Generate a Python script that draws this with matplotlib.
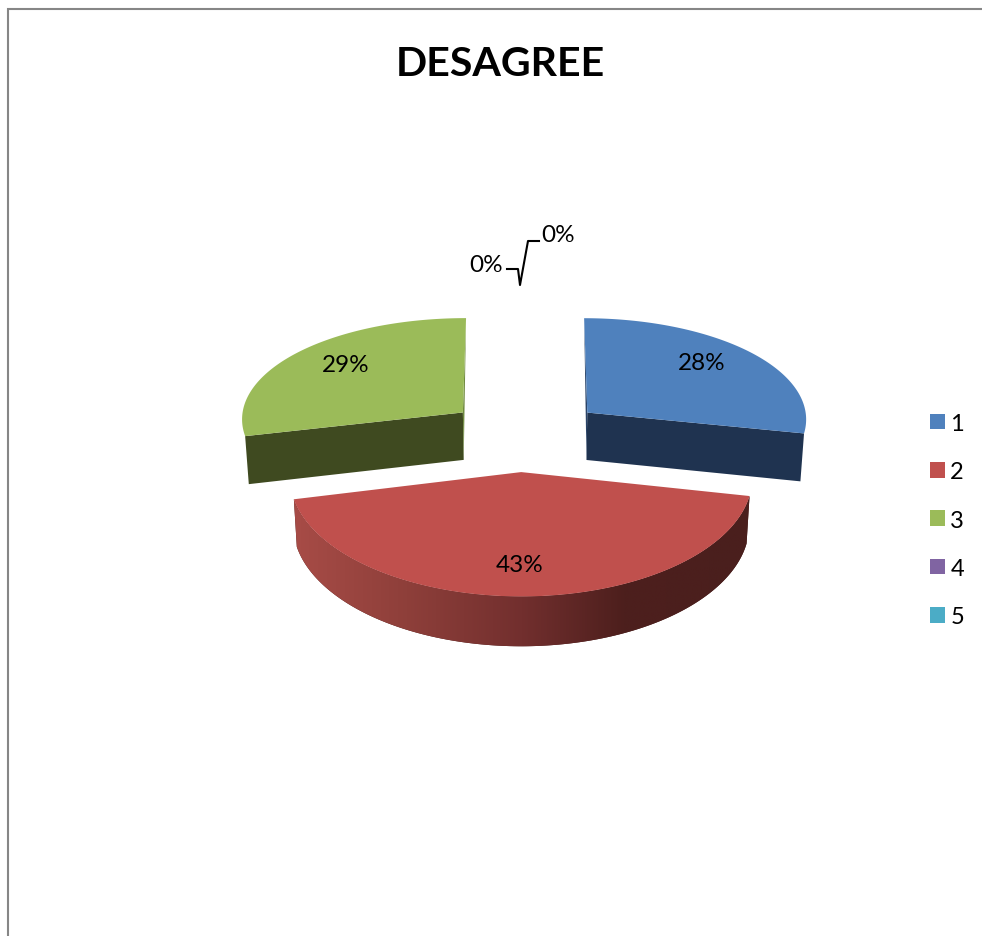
import numpy as np
import matplotlib
matplotlib.use("Agg")
import matplotlib.pyplot as plt
from matplotlib.colors import LinearSegmentedColormap
from matplotlib.patches import Patch, Polygon

plt.rcParams['font.family'] = ['Lato', 'DejaVu Sans']

title = "DESAGREE"
categories = ["1", "2", "3", "4", "5"]
shares = [28, 43, 29, 0, 0]
colors = ["#4F81BD", "#C0504D", "#9BBB59", "#8064A2", "#4BACC6"]
cut_colors = ["#1F3350", "#4A1F1D", "#3F4A20", "#8064A2", "#4BACC6"]
sliver_colors = ["#2A4468", "#4A1F1D", "#6F8A3F", "#8064A2", "#4BACC6"]

# fake 3d pie: pixels of the picture, y going down
X0, Y0 = 524, 436
EXPLODE = 82
TILT, PERSP, PERSP_Y = 0.465, 0.00024, 0.0003
START = 1
radius_x = [221, 226, 223, 0, 0]
radius_y = [223, 236, 223, 0, 0]
depth = [48, 46, 48, 0, 0]
nudge_x = [0, -4, 2, 0, 0]
nudge_y = [1, -2, 1, 0, 0]
trim_start = [-1, 0, 0, 0, 0]
trim_end = [0, 0, -1, 0, 0]

fig = plt.figure(figsize=(9.82, 9.37), dpi=100)
ax = fig.add_axes([0, 0, 1, 1])
ax.set_xlim(0, 982)
ax.set_ylim(937, 0)
ax.axis("off")


def project(i, wx, wy, low=False):
    s = 1 / (1 + PERSP * wy)
    sy = 1 / (1 + PERSP_Y * wy)
    if low:
        return X0 + wx * s * 0.987, Y0 - TILT * wy * sy + depth[i] * s
    return X0 + wx * s, Y0 - TILT * wy * sy


def slice_points(i, start, end, low=False):
    mid = np.radians((start + end) / 2)
    ox, oy = EXPLODE * np.sin(mid), EXPLODE * np.cos(mid)
    t = np.radians(np.linspace(start + trim_start[i], end + trim_end[i], 160))
    arc = np.column_stack(project(i, ox + radius_x[i] * np.sin(t), oy + radius_y[i] * np.cos(t), low))
    apex = np.array(project(i, ox, oy, low))
    shift = np.array([nudge_x[i], nudge_y[i]])
    return apex + shift, arc + shift


red_ramp = LinearSegmentedColormap.from_list(
    "red_side", [(0, "#A84C47"), (0.25, "#8E3F3A"), (0.5, "#722F2E"), (0.72, "#4D1F1D"), (1, "#4A1F1D")])

angle = START
for i, share in enumerate(shares):
    if share == 0:
        continue
    sweep = share * 3.6
    apex, arc = slice_points(i, angle, angle + sweep)
    apex_low, arc_low = slice_points(i, angle, angle + sweep, low=True)

    if categories[i] == "2":
        # outer wall with the shading
        wall = Polygon(np.vstack([arc, arc_low[::-1]]), closed=True, fc=cut_colors[i], ec="none", zorder=2 + i)
        ax.add_patch(wall)
        img = ax.imshow(np.linspace(0, 1, 256)[None, :], cmap=red_ramp, aspect="auto",
                        extent=(arc[:, 0].min() - 3, arc[:, 0].max() + 3, 660, 480), zorder=2.5 + i)
        img.set_clip_path(wall)

    # the two cut faces
    if categories[i] == "1":
        ax.add_patch(Polygon([arc[-1], apex, apex_low, arc_low[-1]], fc=cut_colors[i], ec="none", zorder=3 + i))
        ax.add_patch(Polygon([arc[0], apex, apex_low], fc=sliver_colors[i], ec="none", zorder=3 + i))
    if categories[i] == "3":
        ax.add_patch(Polygon([arc[0], apex, apex_low, arc_low[0]], fc=cut_colors[i], ec="none", zorder=3 + i))
        ax.add_patch(Polygon([arc[-1], apex, apex_low], fc=sliver_colors[i], ec="none", zorder=3 + i))

    # top
    ax.add_patch(Polygon(np.vstack([apex, arc]), closed=True, fc=colors[i], ec="none", zorder=4 + i))
    angle += sweep

# labels
label_pos = [(702, 364), (520, 566), (346, 366), (486, 266), (558, 236)]
for share, (lx, ly) in zip(shares, label_pos):
    ax.text(lx, ly, f"{share}%", fontsize=17.5, color="black", ha="center", va="center", zorder=20)

ax.plot([507, 518, 520, 528, 539], [270, 270, 286, 242, 242], color="black", lw=1.5, zorder=20)

ax.text(500, 64, title, fontsize=29.6, fontweight="bold", color="black", ha="center", va="center")

handles = [Patch(fc=c, ec="none") for c in colors]
ax.legend(handles, categories, loc="center left", bbox_to_anchor=(913 / 982, 1 - 521 / 937),
          frameon=False, fontsize=17, handlelength=0.64, handleheight=0.64, handletextpad=0.24,
          labelspacing=1.155, borderpad=0, borderaxespad=0.7)

# frame of the screenshot
ax.plot([8, 8, 982], [937, 10, 10], color="#868686", lw=1.5, solid_joinstyle="miter", clip_on=False)

fig.savefig("out.png", dpi=100)
